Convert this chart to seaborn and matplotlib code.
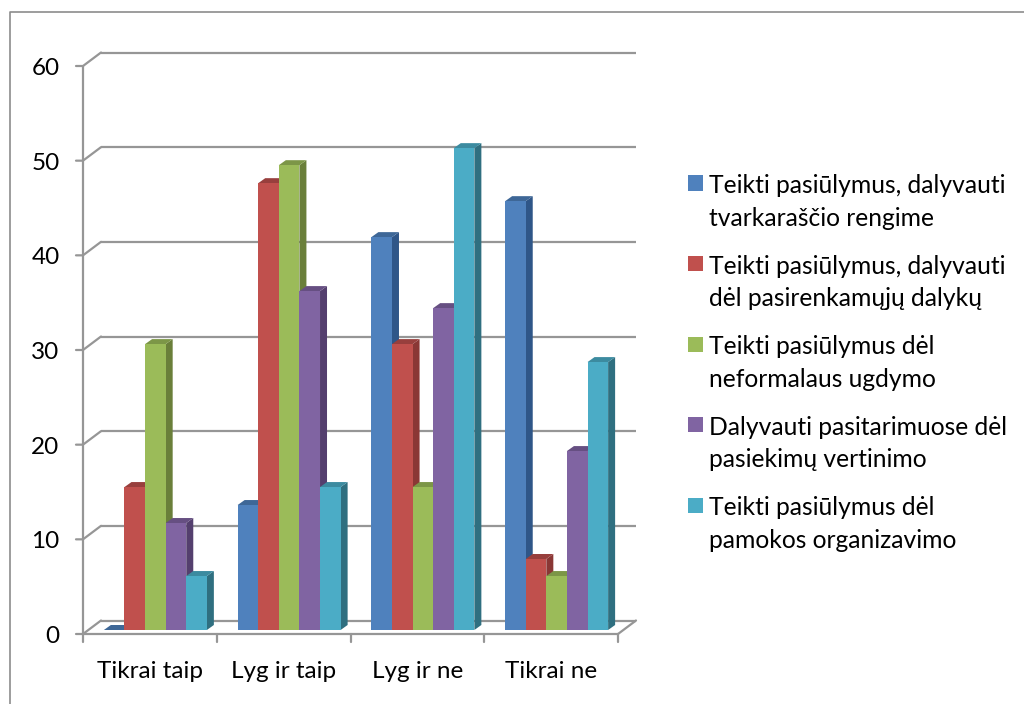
import matplotlib
matplotlib.use("Agg")
import matplotlib.pyplot as plt
import pandas as pd
import seaborn as sns
from matplotlib.lines import Line2D
from matplotlib.patches import Polygon, Rectangle
from matplotlib.transforms import Affine2D, IdentityTransform

answers = ["Tikrai taip", "Lyg ir taip", "Lyg ir ne", "Tikrai ne"]
series_names = [
    "Teikti pasiūlymus, dalyvauti\ntvarkaraščio rengime",
    "Teikti pasiūlymus, dalyvauti\ndėl pasirenkamųjų dalykų",
    "Teikti pasiūlymus dėl\nneformalaus ugdymo",
    "Dalyvauti pasitarimuose dėl\npasiekimų vertinimo",
    "Teikti pasiūlymus dėl\npamokos organizavimo",
]
tvarkarastis = [0, 13.2, 41.5, 45.3]
pasirenkamieji = [15.1, 47.2, 30.2, 7.5]
neformalus = [30.2, 49.1, 15.1, 5.7]
vertinimas = [11.3, 35.8, 34.0, 18.9]
pamoka = [5.7, 15.1, 50.9, 28.3]
y_ticks = [0, 10, 20, 30, 40, 50, 60]

front_colors = ["#4F81BD", "#C0504D", "#9BBB59", "#8064A2", "#4BACC6"]
side_colors = ["#2F5688", "#8A3735", "#6A7F3A", "#543F6E", "#2F6F80"]
top_colors = ["#3E6797", "#983F3D", "#7C9647", "#664F82", "#3C8BA0"]
grid_color = "#969696"
W, H = 1024, 704

sns.set_theme(style="white")
plt.rcParams["font.family"] = ["Lato", "DejaVu Sans"]

rows = []
all_values = [tvarkarastis, pasirenkamieji, neformalus, vertinimas, pamoka]
for name, values in zip(series_names, all_values):
    for answer, value in zip(answers, values):
        rows.append({"answer": answer, "series": name, "value": value})
df = pd.DataFrame(rows)

fig = plt.figure(figsize=(W / 100, H / 100), dpi=100)
ax = fig.add_axes([88.5 / W, (H - 630) / H, 535 / W, 568 / H])
sns.barplot(
    data=df, x="answer", y="value", hue="series", hue_order=series_names,
    palette=front_colors, saturation=1, width=0.77, legend=False, ax=ax,
)
ax.set_xlim(-0.5, 3.5)
ax.set_ylim(0, 60)
ax.axis("off")


def shifted(dx, dy):
    return ax.transData + Affine2D().translate(dx, dy)


# walls and axes, the 3D look is just pixel offsets from the bar plane
front = shifted(-5.5, -4)
back = shifted(12.5, 9.5)
line_kw = dict(color=grid_color, lw=1.6, clip_on=False, zorder=1, solid_capstyle="butt")
for tick in y_ticks:
    ax.plot([-0.5, 3.5], [tick, tick], transform=back, **line_kw)
    x0, y0 = front.transform((-0.5, tick))
    x1, y1 = back.transform((-0.5, tick))
    fig.add_artist(Line2D([x0 - 7, x0, x1], [y0, y0, y1], transform=IdentityTransform(),
                          color=grid_color, lw=1.6))
    ax.text(-0.5, tick, str(tick), transform=shifted(-29, -6.5), ha="right", va="center",
            fontsize=17.5, color="black")
ax.plot([-0.5, -0.5], [0, 60], transform=front, **line_kw)
ax.plot([-0.5, 3.5], [0, 0], transform=front, **line_kw)

x0, y0 = front.transform((3.5, 0))
x1, y1 = back.transform((3.5, 0))
fig.add_artist(Line2D([x0, x1], [y0, y1], transform=IdentityTransform(), color=grid_color, lw=1.6))
for pos in [-0.5, 0.5, 1.5, 2.5, 3.5]:
    xp, yp = front.transform((pos, 0))
    fig.add_artist(Line2D([xp, xp], [yp, yp - 8], transform=IdentityTransform(),
                          color=grid_color, lw=1.6))
for i, answer in enumerate(answers):
    ax.text(i, 0, answer, transform=shifted(-5.5, -42), ha="center", va="center",
            fontsize=17.5, color="black")

# side and top faces for each bar
depth_x, depth_y = 7, 5
for s, container in enumerate(ax.containers):
    for bar in container:
        bar.set_zorder(4 + 2 * s)
        bar.set_linewidth(0)
        (xa, ya) = ax.transData.transform((bar.get_x(), 0))
        (xb, yb) = ax.transData.transform((bar.get_x() + bar.get_width(), bar.get_height()))
        side = [(xb, ya), (xb + depth_x, ya + depth_y), (xb + depth_x, yb + depth_y), (xb, yb)]
        top = [(xa, yb), (xa + depth_x, yb + depth_y), (xb + depth_x, yb + depth_y), (xb, yb)]
        ax.add_patch(Polygon(side, closed=True, transform=IdentityTransform(), fc=side_colors[s],
                             lw=0, zorder=3 + 2 * s, clip_on=False))
        ax.add_patch(Polygon(top, closed=True, transform=IdentityTransform(), fc=top_colors[s],
                             lw=0, zorder=3 + 2 * s, clip_on=False))

# legend
for s, name in enumerate(series_names):
    yc = 183 + s * 80.6
    fig.add_artist(Rectangle((688 / W, 1 - (yc + 7.5) / H), 15 / W, 15 / H,
                             transform=fig.transFigure, fc=front_colors[s], lw=0))
    fig.text(709 / W, 1 - (yc - 9) / H, name, ha="left", va="top", fontsize=17.7,
             linespacing=1.5, color="black")

# chart frame, runs off the right and bottom of the image
fig.add_artist(Line2D([9.5 / W, 9.5 / W, 1], [0, 1 - 11.5 / H, 1 - 11.5 / H],
                      transform=fig.transFigure, color="#8C8C8C", lw=1.2))

fig.savefig("out.png", dpi=100)
